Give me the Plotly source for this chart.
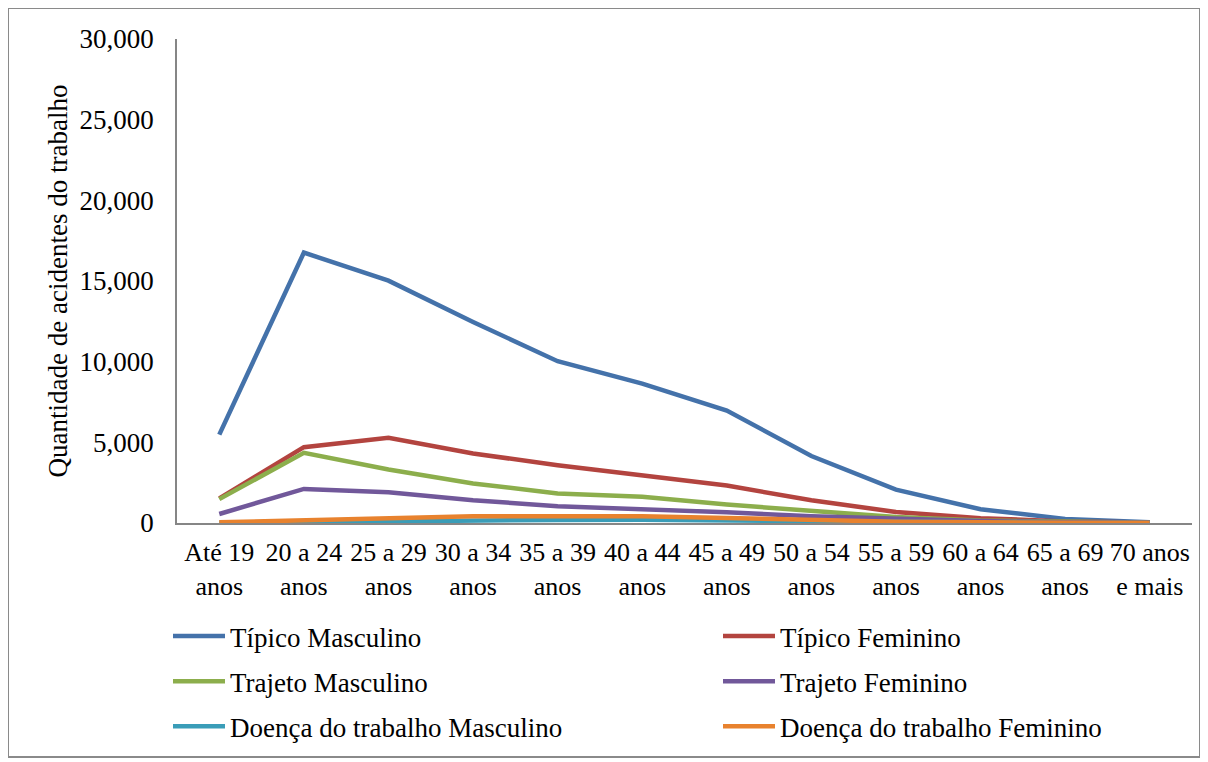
import plotly.graph_objects as go

categories = ["Até 19<br>anos", "20 a 24<br>anos", "25 a 29<br>anos", "30 a 34<br>anos",
              "35 a 39<br>anos", "40 a 44<br>anos", "45 a 49<br>anos", "50 a 54<br>anos",
              "55 a 59<br>anos", "60 a 64<br>anos", "65 a 69<br>anos", "70 anos<br>e mais"]

tipico_masculino = [5480, 16760, 15020, 12460, 10030, 8640, 6970, 4150, 2070, 850, 250, 40]
tipico_feminino = [1530, 4700, 5280, 4310, 3580, 2950, 2320, 1410, 680, 300, 100, 30]
trajeto_masculino = [1480, 4350, 3320, 2450, 1830, 1620, 1140, 730, 370, 160, 60, 20]
trajeto_feminino = [560, 2110, 1910, 1410, 1040, 870, 660, 420, 250, 120, 40, 15]
doenca_masculino = [20, 70, 130, 170, 190, 200, 160, 90, 50, 20, 5, 2]
doenca_feminino = [40, 170, 350, 420, 420, 420, 310, 170, 80, 40, 15, 5]

series_names = ["Típico Masculino", "Típico Feminino", "Trajeto Masculino",
                "Trajeto Feminino", "Doença do trabalho Masculino", "Doença do trabalho Feminino"]
series_values = [tipico_masculino, tipico_feminino, trajeto_masculino,
                 trajeto_feminino, doenca_masculino, doenca_feminino]
colors = ["#4472AA", "#B3443F", "#8CAE4C", "#71589A", "#3A9DB8", "#E8822E"]
legend_ids = ["legend", "legend2", "legend", "legend2", "legend", "legend2"]

y_ticks = [0, 5000, 10000, 15000, 20000, 25000, 30000]

FONT = "Liberation Serif"

fig = go.Figure()
for i, (name, vals, col, lg) in enumerate(zip(series_names, series_values, colors, legend_ids)):
    fig.add_trace(go.Scatter(x=categories, y=vals, name=name, mode="lines",
                             line=dict(color=col, width=4.5),
                             legend=lg, legendgroup="g%d" % i))

W, H = 1208, 762
L, R, T, B = 169, 24, 31, 247
pw, ph = W - L - R, H - T - B

def px(x):
    return (x - L) / pw

def py(y):
    return (H - B - y) / ph

legend_common = dict(orientation="v", xanchor="left", yanchor="top",
                     itemwidth=52, tracegroupgap=7, traceorder="grouped",
                     font=dict(family=FONT, size=27, color="black"),
                     bgcolor="rgba(0,0,0,0)")

fig.update_layout(
    width=W, height=H,
    margin=dict(l=L, r=R, t=T, b=B),
    paper_bgcolor="white", plot_bgcolor="white",
    font=dict(family=FONT, size=27, color="black"),
    showlegend=True,
    legend=dict(x=px(160), y=py(604), **legend_common),
    legend2=dict(x=px(710), y=py(604), **legend_common),
    xaxis=dict(type="category", range=[-0.5, 11.5], showgrid=False, zeroline=False,
               showline=True, linecolor="#868686", linewidth=1.5, ticks="",
               tickfont=dict(family=FONT, size=26), ticklabelstandoff=5),
    yaxis=dict(range=[0, 30000], tickvals=y_ticks, tickformat=",", showgrid=False,
               zeroline=False, showline=True, linecolor="#868686", linewidth=1.5,
               ticks="", tickfont=dict(family=FONT, size=27), ticklabelstandoff=16,
               title=dict(text="Quantidade de acidentes do trabalho",
                          font=dict(family=FONT, size=27), standoff=4)),
    shapes=[dict(type="rect", xref="paper", yref="paper",
                 x0=px(0), x1=px(1192), y0=py(749), y1=py(0),
                 line=dict(color="#8a8a8a", width=2), fillcolor="rgba(0,0,0,0)",
                 layer="below")],
)

fig.write_html("out.html")
